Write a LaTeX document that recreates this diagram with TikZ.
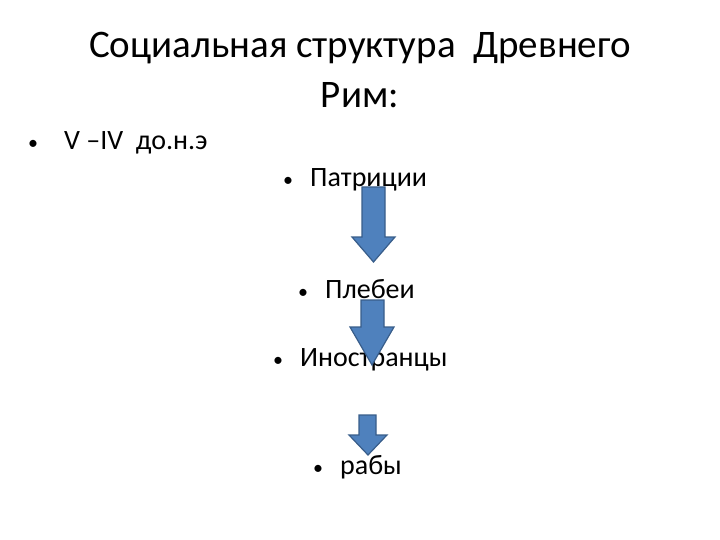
\documentclass[tikz,border=0pt]{standalone}
\usepackage{fontspec}
\setmainfont{Carlito}
\newcommand{\bul}{{\fontsize{20}{20}\selectfont•}}
\begin{document}
\begin{tikzpicture}[x=1pt,y=-1pt,
  txt/.style={anchor=west,inner sep=0pt,font=\fontsize{28}{32}\selectfont},
  arr/.style={fill={rgb,255:red,79;green,129;blue,189},draw={rgb,255:red,56;green,93;blue,138},line width=1.2pt}]
\useasboundingbox (0,0) rectangle (720,540);
\node[font=\fontsize{39}{50}\selectfont,align=center] (title) at (360,70) {Социальная структура\ \ Древнего\\Рим:};
\node[txt] (b0) at (28,143) {\bul\hspace{26pt}V –IV\ \ до.н.э};
\node[txt] (b1) at (283,180) {\bul\hspace{17pt}Патриции};
\node[txt] (b2) at (298,289) {\bul\hspace{17pt}Плебеи};
\node[txt] (b3) at (273,360) {\bul\hspace{17pt}Иностранцы};
\node[txt] (b4) at (313,467) {\bul\hspace{17pt}рабы};
\draw[arr] (362,187)--(385,187)--(385,237)--(395,237)--(373.5,262)--(352,237)--(362,237)--cycle;
\draw[arr] (361,300)--(384,300)--(384,327)--(394,327)--(372,365)--(350,327)--(361,327)--cycle;
\draw[arr] (359,415)--(376,415)--(376,435)--(387,435)--(368,455)--(349,435)--(359,435)--cycle;
\end{tikzpicture}
\end{document}
